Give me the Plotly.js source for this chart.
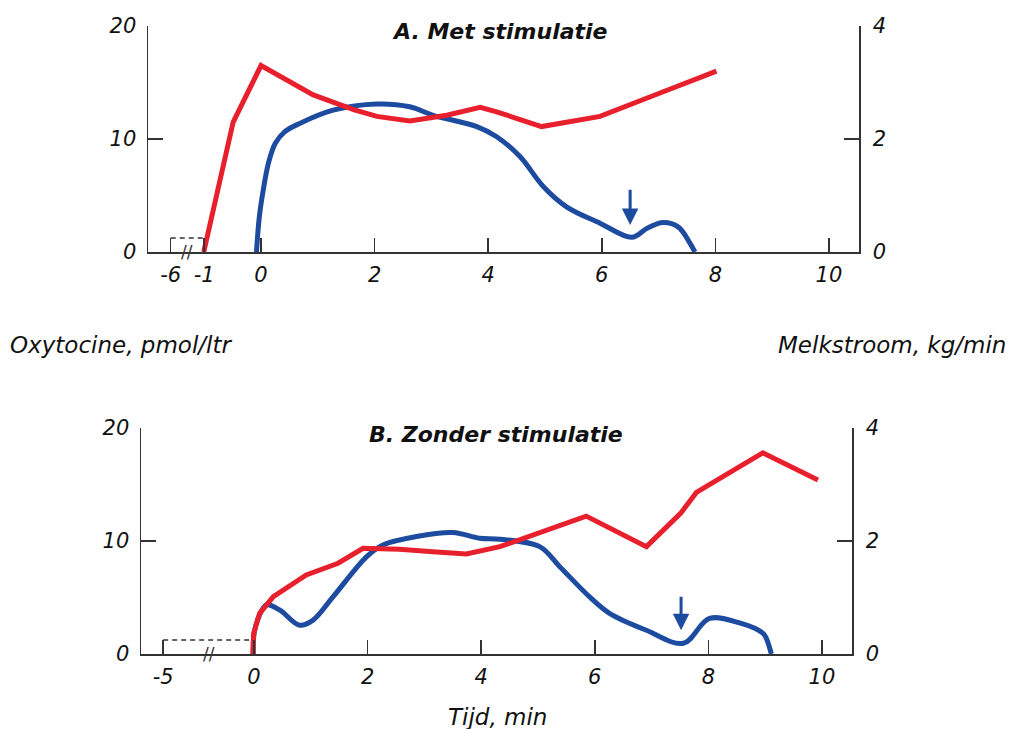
<!DOCTYPE html>
<html>
<head>
<meta charset="utf-8">
<script src="https://cdn.plot.ly/plotly-3.0.1.min.js"></script>
<style>html,body{margin:0;padding:0;background:#fff;}</style>
</head>
<body>
<div id="chart" style="width:1011px;height:729px;"></div>
<script>
// ---------- DATA ----------
// Panel A: Met stimulatie
const redA_t = [-1.07, -0.49, 0.0, 0.92, 1.63, 2.04, 2.62, 3.27, 3.86, 4.15, 4.94, 5.97, 6.97, 8.02];
const redA_v = [0, 11.5, 16.5, 13.9, 12.6, 12.0, 11.6, 12.1, 12.8, 12.4, 11.1, 12.0, 13.96, 16.0];
const blueA_t = [-0.08, -0.03, 0.04, 0.13, 0.25, 0.42, 0.69, 1.27, 2.04, 2.62, 3.03, 3.8, 4.15, 4.56, 4.97, 5.38, 5.97, 6.53, 6.8, 7.08, 7.35, 7.54, 7.64];
const blueA_v = [0, 0.62, 1.1, 1.57, 1.92, 2.13, 2.28, 2.51, 2.62, 2.57, 2.42, 2.22, 2.04, 1.69, 1.16, 0.8, 0.51, 0.26, 0.42, 0.52, 0.44, 0.18, 0];
const baseA_t = [-6, -1];
const baseA_v = [1.25, 1.25];
const arrowA = {t: 6.5, from: 1.13, to: 0.48};
const ticksA = [-6, -1, 0, 2, 4, 6, 8, 10];

// Panel B: Zonder stimulatie
const redB_t = [-0.06, -0.05, -0.02, 0.1, 0.34, 0.92, 1.48, 1.92, 2.56, 3.15, 3.74, 4.33, 5.85, 6.91, 7.52, 7.79, 8.96, 9.93];
const redB_v = [0, 0.94, 1.83, 3.6, 5.07, 6.99, 8.03, 9.35, 9.26, 9.05, 8.85, 9.5, 12.2, 9.5, 12.5, 14.3, 17.8, 15.4];
const blueB_t = [-0.04, 0.0, 0.08, 0.22, 0.45, 0.8, 1.04, 1.39, 1.98, 2.27, 2.86, 3.5, 3.97, 4.33, 5.03, 5.38, 5.91, 6.26, 6.91, 7.56, 8.02, 8.55, 8.96, 9.02, 9.11];
const blueB_v = [0, 0.35, 0.65, 0.87, 0.78, 0.51, 0.6, 1.01, 1.72, 1.93, 2.08, 2.15, 2.05, 2.03, 1.9, 1.55, 1.01, 0.72, 0.42, 0.19, 0.63, 0.55, 0.37, 0.28, 0];
const baseB_t = [-5, 0];
const baseB_v = [1.25, 1.25];
const arrowB = {t: 7.52, from: 1.04, to: 0.42};
const ticksB = [-5, 0, 2, 4, 6, 8, 10];

const titleA = 'A. Met stimulatie';
const titleB = 'B. Zonder stimulatie';
const labelLeft = 'Oxytocine, pmol/ltr';
const labelRight = 'Melkstroom, kg/min';
const labelX = 'Tijd, min';

// ---------- axis break (compressed pre-milking period) ----------
const breakA = {at: -1, k: 0.118};
const breakB = {at: 0, k: 0.32};
function toAxis(t, br) { return t >= br.at ? t : br.at + (t - br.at) * br.k; }

// ---------- STYLE ----------
const RED = '#e8202d';
const BLUE = '#1c4b9f';
const AX = '#333333';
const TXT = '#111111';
const FONT = 'DejaVu Sans';

function line(t, v, br, xa, ya, color, shape) {
  return {x: t.map(s => toAxis(s, br)), y: v, xaxis: xa, yaxis: ya, type: 'scatter', mode: 'lines',
    line: {color: color, width: 5, shape: shape, smoothing: 1}, hoverinfo: 'skip'};
}
function dashed(t, v, br, xa, ya) {
  return {x: t.map(s => toAxis(s, br)), y: v, xaxis: xa, yaxis: ya, type: 'scatter', mode: 'lines',
    line: {color: AX, width: 1.5, dash: '5px,4px'}, hoverinfo: 'skip'};
}

const data = [
  line(blueA_t, blueA_v, breakA, 'x', 'y', BLUE, 'spline'),
  dashed(baseA_t, baseA_v, breakA, 'x', 'y2'),
  line(redA_t, redA_v, breakA, 'x', 'y2', RED, 'linear'),
  line(blueB_t, blueB_v, breakB, 'x2', 'y3', BLUE, 'spline'),
  dashed(baseB_t, baseB_v, breakB, 'x2', 'y4'),
  line(redB_t, redB_v, breakB, 'x2', 'y4', RED, 'linear')
];

const tickFont = {family: FONT, size: 21, color: TXT, style: 'italic'};
function xAxis(dom, anchor, ticks, br) {
  return {domain: dom, anchor: anchor, range: [-1.99, 10.53], showline: true, linecolor: AX, linewidth: 1.5,
    ticks: 'inside', ticklen: 14, tickwidth: 1.5, tickcolor: AX, showgrid: false, zeroline: false,
    tickmode: 'array', tickvals: ticks.map(s => toAxis(s, br)), ticktext: ticks.map(String), tickfont: tickFont,
    ticklabelstandoff: 3, fixedrange: true};
}
function yAxis(dom, anchor, side, rng, vals, overlay, standoff) {
  const a = {anchor: anchor, side: side, range: rng, showline: true, linecolor: AX, linewidth: 1.5,
    ticks: 'inside', ticklen: 15, tickwidth: 1.5, tickcolor: AX, showgrid: false, zeroline: false,
    tickmode: 'array', tickvals: vals, ticktext: vals.map(String), tickfont: tickFont,
    ticklabelstandoff: standoff, fixedrange: true};
  if (overlay) a.overlaying = overlay; else a.domain = dom;
  return a;
}

const domTop = [1 - 252 / 729, 1 - 26 / 729];
const domBot = [1 - 654 / 729, 1 - 428 / 729];

function arrow(a, br, xa, ya) {
  return {x: toAxis(a.t, br), y: a.to, ax: toAxis(a.t, br), ay: a.from, xref: xa, yref: ya, axref: xa, ayref: ya,
    text: '', showarrow: true, arrowhead: 2, arrowsize: 1.1, arrowwidth: 3, arrowcolor: BLUE, standoff: 0};
}
function brk(t1, t2, br, xa, ya) {
  return {x: (toAxis(t1, br) + toAxis(t2, br)) / 2, y: 0, xref: xa, yref: ya, text: '//', showarrow: false,
    font: {family: FONT, size: 17, color: AX}, xanchor: 'center', yanchor: 'middle'};
}

const layout = {
  width: 1011, height: 729, margin: {l: 0, r: 0, t: 0, b: 0},
  paper_bgcolor: '#ffffff', plot_bgcolor: 'rgba(0,0,0,0)', showlegend: false,
  font: {family: FONT, color: TXT},
  xaxis: xAxis([148 / 1011, 859 / 1011], 'y', ticksA, breakA),
  yaxis: yAxis(domTop, 'x', 'right', [0, 4], [0, 2, 4], null, 8),
  yaxis2: yAxis(null, 'x', 'left', [0, 20], [0, 10, 20], 'y', 6),
  xaxis2: xAxis([141 / 1011, 852 / 1011], 'y3', ticksB, breakB),
  yaxis3: yAxis(domBot, 'x2', 'right', [0, 4], [0, 2, 4], null, 8),
  yaxis4: yAxis(null, 'x2', 'left', [0, 20], [0, 10, 20], 'y3', 6),
  annotations: [
    {text: titleA, x: 500 / 1011, y: 1 - 32 / 729, xref: 'paper', yref: 'paper', showarrow: false,
      xanchor: 'center', yanchor: 'middle', font: {family: FONT, size: 22, weight: 'bold', style: 'italic', color: TXT}},
    {text: titleB, x: 496 / 1011, y: 1 - 435 / 729, xref: 'paper', yref: 'paper', showarrow: false,
      xanchor: 'center', yanchor: 'middle', font: {family: FONT, size: 22, weight: 'bold', style: 'italic', color: TXT}},
    {text: labelLeft, x: 8 / 1011, y: 1 - 345 / 729, xref: 'paper', yref: 'paper', showarrow: false,
      xanchor: 'left', yanchor: 'middle', font: {family: FONT, size: 23, style: 'italic', color: TXT}},
    {text: labelRight, x: 1008 / 1011, y: 1 - 345 / 729, xref: 'paper', yref: 'paper', showarrow: false,
      xanchor: 'right', yanchor: 'middle', font: {family: FONT, size: 23, style: 'italic', color: TXT}},
    {text: labelX, x: 497 / 1011, y: 1 - 717 / 729, xref: 'paper', yref: 'paper', showarrow: false,
      xanchor: 'center', yanchor: 'middle', font: {family: FONT, size: 23, style: 'italic', color: TXT}},
    arrow(arrowA, breakA, 'x', 'y'),
    arrow(arrowB, breakB, 'x2', 'y3'),
    brk(-6, -1, breakA, 'x', 'y'),
    brk(-5, 0, breakB, 'x2', 'y3')
  ]
};

Plotly.newPlot('chart', data, layout, {displayModeBar: false, staticPlot: true});
</script>
</body>
</html>
